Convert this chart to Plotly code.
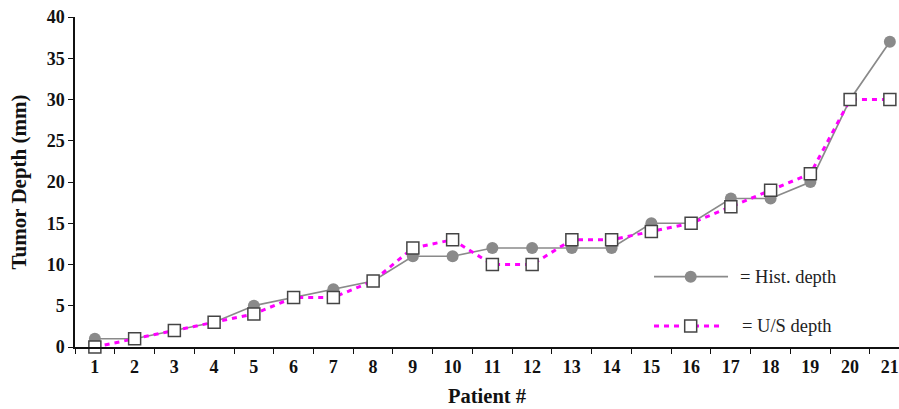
import plotly.graph_objects as go

patients = [str(i) for i in range(1, 22)]
hist_depth = [1, 1, 2, 3, 5, 6, 7, 8, 11, 11, 12, 12, 12, 12, 15, 15, 18, 18, 20, 30, 37]
us_depth = [0, 1, 2, 3, 4, 6, 6, 8, 12, 13, 10, 10, 13, 13, 14, 15, 17, 19, 21, 30, 30]
y_ticks = [0, 5, 10, 15, 20, 25, 30, 35, 40]
legend_labels = ["= Hist. depth", "= U/S depth"]

FONT = "Liberation Serif"
GRAY = "#8a8a8a"
MAG = "#ff00ff"
MSIZE = 12

fig = go.Figure()
fig.add_trace(go.Scatter(
    x=patients, y=hist_depth, mode="lines+markers",
    line=dict(color=GRAY, width=1.7),
    marker=dict(symbol="circle", size=MSIZE, color=GRAY),
    cliponaxis=False, showlegend=False))
fig.add_trace(go.Scatter(
    x=patients, y=us_depth, mode="lines+markers",
    line=dict(color=MAG, width=3, dash="5px,5px"),
    marker=dict(symbol="square", size=MSIZE, color="white",
                line=dict(color="#444444", width=1.5)),
    cliponaxis=False, showlegend=False))

# manual legend drawn on an overlay axis spanning the plot area (0..1)
LY1, LY2 = 0.213, 0.064
LX0, LXM = 0.7027, 0.7472
fig.add_trace(go.Scatter(
    x=[LXM], y=[LY1], xaxis="x2", yaxis="y2", mode="markers",
    marker=dict(symbol="circle", size=MSIZE, color=GRAY),
    cliponaxis=False, showlegend=False, hoverinfo="skip"))
fig.add_trace(go.Scatter(
    x=[LXM], y=[LY2], xaxis="x2", yaxis="y2", mode="markers",
    marker=dict(symbol="square", size=MSIZE, color="white",
                line=dict(color="#444444", width=1.5)),
    cliponaxis=False, showlegend=False, hoverinfo="skip"))

shapes = [
    dict(type="line", xref="x2", yref="y2", x0=LX0, x1=0.7925, y0=LY1, y1=LY1,
         line=dict(color=GRAY, width=1.7), layer="below"),
    dict(type="line", xref="x2", yref="y2", x0=LX0, x1=0.7876, y0=LY2, y1=LY2,
         line=dict(color=MAG, width=3, dash="5px,5px"), layer="below"),
]
annotations = [
    dict(text=legend_labels[0], xref="x2", yref="y2", x=0.807, y=LY1,
         xanchor="left", yanchor="middle", showarrow=False, xshift=-2,
         font=dict(family=FONT, size=18.5, color="#222")),
    dict(text=legend_labels[1], xref="x2", yref="y2", x=0.809, y=LY2,
         xanchor="left", yanchor="middle", showarrow=False, xshift=-2,
         font=dict(family=FONT, size=18.5, color="#222")),
]

fig.update_layout(
    width=899, height=409,
    margin=dict(l=75, r=0, t=17, b=62),
    paper_bgcolor="white", plot_bgcolor="white",
    font=dict(family=FONT, color="#111"),
    shapes=shapes, annotations=annotations,
    xaxis=dict(
        type="category", range=[-0.5, 20.23], automargin=False,
        tickson="boundaries", ticks="outside", ticklen=5, tickcolor="#111",
        showline=True, linecolor="#111", linewidth=1.5,
        showgrid=False, zeroline=False, ticklabelstandoff=3,
        ticklabeloverflow="allow",
        tickfont=dict(family=FONT, size=18, color="#111", weight="bold"),
        title=dict(text="<b>Patient #</b>", font=dict(family=FONT, size=20.5, color="#111"),
                   standoff=12),
    ),
    yaxis=dict(
        range=[0, 40], tickvals=y_ticks, ticks="outside", ticklen=5, tickcolor="#111",
        showline=True, linecolor="#111", linewidth=1.5, automargin=False,
        showgrid=False, zeroline=False, ticklabeloverflow="allow",
        tickfont=dict(family=FONT, size=18, color="#111", weight="bold"),
        title=dict(text="<b>Tumor Depth (mm)</b>", font=dict(family=FONT, size=21, color="#111"),
                   standoff=14),
    ),
    xaxis2=dict(range=[0, 1], overlaying="x", visible=False, fixedrange=True, anchor="y2"),
    yaxis2=dict(range=[0, 1], overlaying="y", visible=False, fixedrange=True, anchor="x2"),
)

fig.write_html(
    "out.html",
    config={"displayModeBar": False},
    post_script="document.body.style.margin='0px';document.body.style.overflow='hidden';",
)
